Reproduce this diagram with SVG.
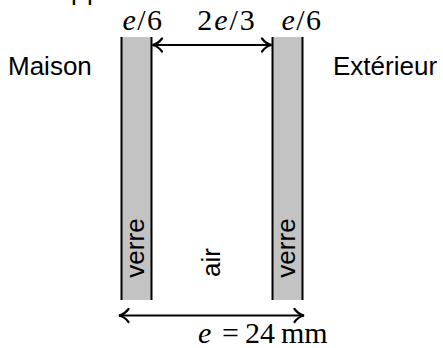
<svg xmlns="http://www.w3.org/2000/svg" width="443" height="348" viewBox="0 0 443 348">
  <style>
    .sans { font-family: "Liberation Sans", "DejaVu Sans", sans-serif; font-size: 26px; fill: #000; }
    .math { font-family: "Liberation Serif", "DejaVu Serif", serif; font-size: 30px; fill: #000; }
    .it { font-style: italic; }
    .glass { fill: #c3c3c3; stroke: none; }
    .wall { stroke: #000; stroke-width: 2; fill: none; }
    .dim { stroke: #000; stroke-width: 2; fill: none; marker-start: url(#head); marker-end: url(#head); }
  </style>
  <defs>
    <marker id="head" markerUnits="userSpaceOnUse" markerWidth="14" markerHeight="16" viewBox="-12 -8 14 16" refX="0" refY="0" orient="auto-start-reverse" overflow="visible">
      <path d="M -9.5 -6.5 C -6.5 -2.4 -2.8 -0.6 0 0 C -2.8 0.6 -6.5 2.4 -9.5 6.5" fill="none" stroke="#000" stroke-width="2.2" stroke-linecap="round"/>
    </marker>
  </defs>
  <rect width="443" height="348" fill="#fff"/>

  <text class="sans" x="71" y="-0.5" letter-spacing="1.5">pp</text>

  <g id="glass-left">
    <rect class="glass" x="121.5" y="37" width="30" height="263"/>
    <line class="wall" x1="121.5" y1="37" x2="121.5" y2="300"/>
    <line class="wall" x1="151.5" y1="37" x2="151.5" y2="300"/>
    <text class="sans" transform="translate(143.5,248) rotate(-90)" text-anchor="middle">verre</text>
  </g>

  <g id="air">
    <text class="sans" transform="translate(220,262.5) rotate(-90)" text-anchor="middle">air</text>
  </g>

  <g id="glass-right">
    <rect class="glass" x="272.5" y="37" width="30" height="263"/>
    <line class="wall" x1="272.5" y1="37" x2="272.5" y2="300"/>
    <line class="wall" x1="302.5" y1="37" x2="302.5" y2="300"/>
    <text class="sans" transform="translate(295,248) rotate(-90)" text-anchor="middle">verre</text>
  </g>

  <g id="maison">
    <text class="sans" x="8" y="75">Maison</text>
  </g>
  <g id="exterieur">
    <text class="sans" x="333" y="75">Extérieur</text>
  </g>

  <g id="labels">
    <text class="math" x="143" y="30" text-anchor="middle" letter-spacing="1.5"><tspan class="it">e</tspan>/6</text>
    <text class="math" x="227" y="30" text-anchor="middle" letter-spacing="2">2<tspan class="it">e</tspan>/3</text>
    <text class="math" x="302" y="30" text-anchor="middle" letter-spacing="1.5"><tspan class="it">e</tspan>/6</text>
    <text class="math" y="343"><tspan class="it" x="198">e</tspan><tspan x="222">=</tspan><tspan x="245">24</tspan><tspan x="281">mm</tspan></text>
  </g>

  <g id="connectors">
    <line class="dim" x1="152.5" y1="45" x2="271.5" y2="45"/>
    <line class="dim" x1="119" y1="315.5" x2="304" y2="315.5"/>
  </g>
</svg>
